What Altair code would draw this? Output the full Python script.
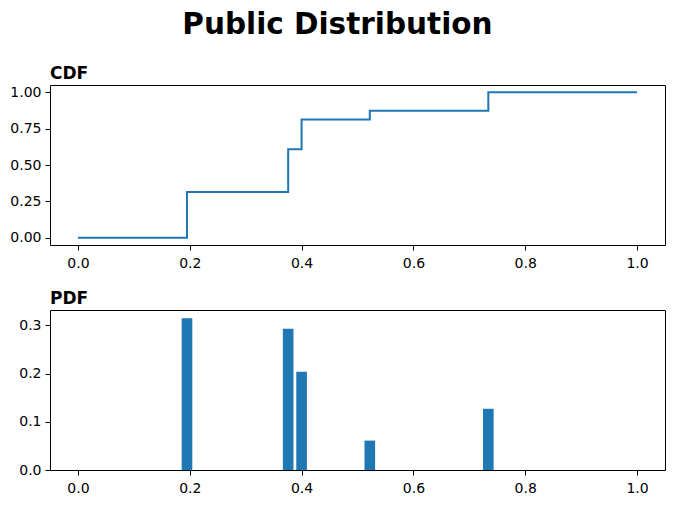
import altair as alt
import pandas as pd

# CDF step points
cdf_x = [0.0, 0.195, 0.376, 0.400, 0.522, 0.734, 1.0]
cdf_y = [0.0, 0.315, 0.608, 0.812, 0.873, 1.0, 1.0]

# PDF bars
pdf_x = [0.195, 0.376, 0.400, 0.522, 0.734]
pdf_y = [0.315, 0.293, 0.204, 0.061, 0.127]

x_ticks = [0.0, 0.2, 0.4, 0.6, 0.8, 1.0]
cdf_ticks = [0.0, 0.25, 0.5, 0.75, 1.0]
pdf_ticks = [0.0, 0.1, 0.2, 0.3]

cdf_df = pd.DataFrame({"x": cdf_x, "y": cdf_y})
pdf_df = pd.DataFrame({"x": pdf_x, "y": pdf_y})

BLUE = "#1f77b4"
W, H = 615, 160

xscale = alt.Scale(domain=[-0.05, 1.05], nice=False, zero=False)

cdf = alt.Chart(cdf_df, title=alt.Title("CDF")).mark_line(
    interpolate="step-after", color=BLUE, strokeWidth=2
).encode(
    x=alt.X("x:Q", scale=xscale, axis=alt.Axis(values=x_ticks, format=".1f", title=None)),
    y=alt.Y("y:Q", scale=alt.Scale(domain=[-0.05, 1.05], nice=False, zero=False),
            axis=alt.Axis(values=cdf_ticks, format=".2f", title=None)),
).properties(width=W, height=H)

pdf = alt.Chart(pdf_df, title=alt.Title("PDF")).transform_calculate(
    x0="datum.x - 0.0095", x1="datum.x + 0.0095"
).mark_bar(color=BLUE).encode(
    x=alt.X("x0:Q", scale=xscale, axis=alt.Axis(values=x_ticks, format=".1f", title=None)),
    x2="x1:Q",
    y=alt.Y("y:Q", scale=alt.Scale(domain=[0, 0.332], nice=False, zero=False),
            axis=alt.Axis(values=pdf_ticks, format=".1f", title=None)),
    y2=alt.datum(0),
).properties(width=W, height=H)

chart = alt.vconcat(cdf, pdf, spacing=18).properties(
    title=alt.Title("Public Distribution", fontSize=29.5, fontWeight="bold",
                    font="DejaVu Sans", anchor="middle", color="black", offset=24,
                    frame="bounds"),
    padding={"left": 1, "top": 2, "right": 5, "bottom": 5},
).configure_view(
    stroke="black", strokeWidth=1
).configure_axis(
    domain=False, grid=False, ticks=True, tickSize=5, tickColor="black", tickWidth=1,
    labelFont="DejaVu Sans", labelFontSize=14, labelColor="black", labelPadding=4,
).configure_axisX(
    labelPadding=6
).configure_title(
    font="DejaVu Sans", fontSize=17, fontWeight="bold", anchor="start", color="black",
    offset=2, frame="group"
)

chart.save("out.html", embed_options={"renderer": "svg", "actions": False})
